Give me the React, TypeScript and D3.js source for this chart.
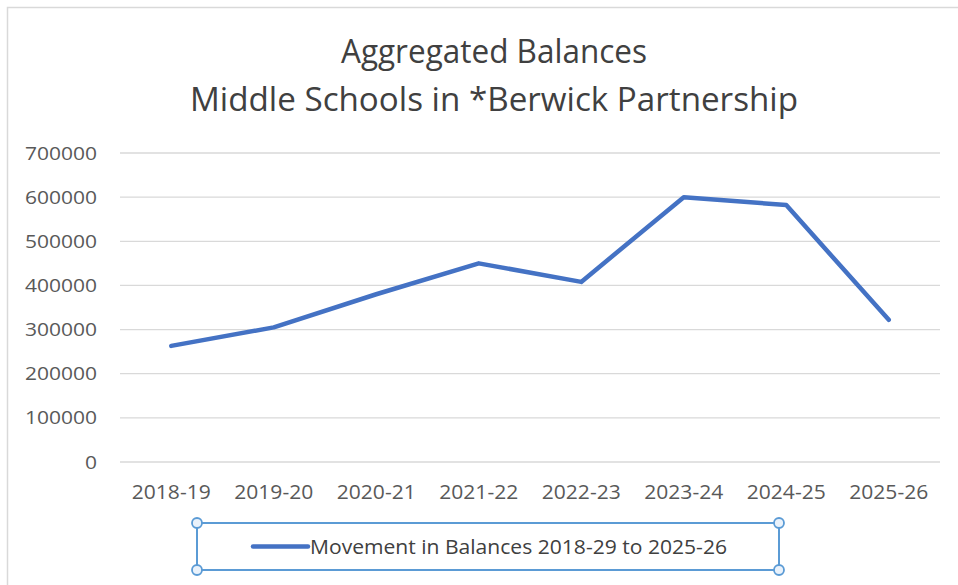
import React from "react";
import * as d3 from "d3";

const categories = ["2018-19", "2019-20", "2020-21", "2021-22", "2022-23", "2023-24", "2024-25", "2025-26"];
const balances = [263000, 305000, 380000, 450000, 408000, 600000, 582000, 322000];
const yTicks = [0, 100000, 200000, 300000, 400000, 500000, 600000, 700000];
const titleLines = ["Aggregated Balances", "Middle Schools in *Berwick Partnership"];
const legendLabel = "Movement in Balances 2018-29 to 2025-26";

const W = 958;
const H = 585;
const plot = { left: 120, right: 940, top: 153, bottom: 462 };
const FONT = "'Open Sans', 'Liberation Sans', sans-serif";

export default function App() {
  const x = d3.scaleBand<string>().domain(categories).range([plot.left, plot.right]).padding(0);
  const y = d3.scaleLinear().domain([0, 700000]).range([plot.bottom, plot.top]);
  const cx = (c: string) => (x(c) ?? 0) + x.bandwidth() / 2;
  const line = d3
    .line<number>()
    .x((_, i) => cx(categories[i]))
    .y((d) => y(d));

  const legend = { x0: 197, y0: 523, x1: 779, y1: 570 };
  const legendMid = (legend.y0 + legend.y1) / 2;

  return (
    <svg
      width={W}
      height={H}
      style={{ position: "absolute", left: 0, top: 0, background: "#fff" }}
      fontFamily={FONT}
    >
      <rect x={0} y={0} width={W} height={H} fill="#fff" />
      {/* chart area border */}
      <rect x={7.5} y={7.5} width={W + 10} height={H + 10} fill="none" stroke="#d9d9d9" strokeWidth={1.5} />

      {/* title */}
      {titleLines.map((t, i) => (
        <text
          key={t}
          x={494}
          y={63 + i * 48}
          textAnchor="middle"
          fontSize={33}
          fontWeight={400}
          fill="#404040"
          textLength={i === 0 ? 306 : 608}
          lengthAdjust="spacingAndGlyphs"
        >
          {t}
        </text>
      ))}

      {/* gridlines + y labels */}
      {yTicks.map((v) => (
        <g key={v}>
          <line x1={plot.left} x2={plot.right} y1={y(v)} y2={y(v)} stroke="#d9d9d9" strokeWidth={1.3} />
          <text
            x={97}
            y={y(v) + 6.5}
            textAnchor="end"
            fontSize={18.5}
            fill="#595959"
            textLength={String(v).length * 12}
            lengthAdjust="spacingAndGlyphs"
          >
            {v}
          </text>
        </g>
      ))}

      {/* x labels */}
      {categories.map((c) => (
        <text
          key={c}
          x={cx(c)}
          y={498.5}
          textAnchor="middle"
          fontSize={19.5}
          fill="#595959"
          textLength={79}
          lengthAdjust="spacingAndGlyphs"
        >
          {c}
        </text>
      ))}

      {/* series line */}
      <path
        d={line(balances) ?? ""}
        fill="none"
        stroke="#4472c4"
        strokeWidth={4.5}
        strokeLinejoin="round"
        strokeLinecap="round"
      />

      {/* legend with selection box */}
      <rect
        x={legend.x0}
        y={legend.y0}
        width={legend.x1 - legend.x0}
        height={legend.y1 - legend.y0}
        fill="none"
        stroke="#5b9bd5"
        strokeWidth={2}
      />
      {[
        [legend.x0, legend.y0],
        [legend.x1, legend.y0],
        [legend.x0, legend.y1],
        [legend.x1, legend.y1],
      ].map(([hx, hy], i) => (
        <circle key={i} cx={hx} cy={hy} r={5} fill="#eaf2fb" stroke="#5b9bd5" strokeWidth={1.8} />
      ))}
      <line x1={253} x2={308} y1={legendMid} y2={legendMid} stroke="#4472c4" strokeWidth={4.5} strokeLinecap="round" />
      <text
        x={310}
        y={legendMid + 7}
        fontSize={20}
        fill="#404040"
        textLength={417}
        lengthAdjust="spacingAndGlyphs"
      >
        {legendLabel}
      </text>
    </svg>
  );
}
